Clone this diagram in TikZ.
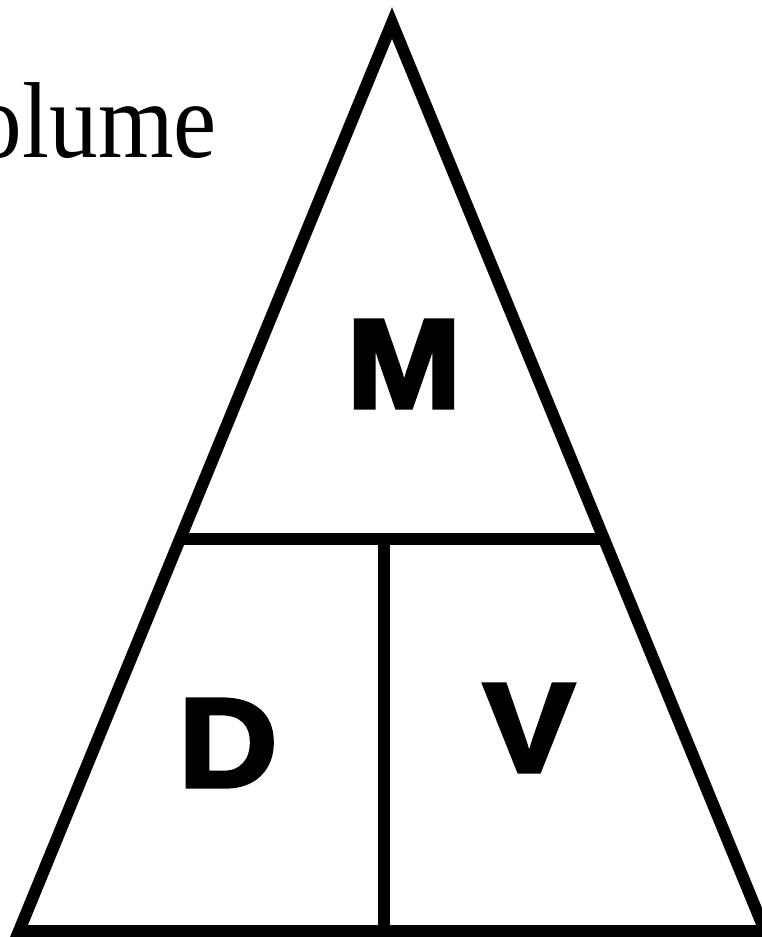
\documentclass[tikz,border=0pt]{standalone}
\usepackage{fontspec}
\setmainfont{Liberation Serif}
\newfontfamily\lettersans[BoldFeatures={FakeBold=3}]{Liberation Sans}
\usetikzlibrary{calc}
\tikzset{
  edge/.style={line width=12pt, line join=miter, miter limit=20},
  bigletter/.style={font=\lettersans\bfseries\fontsize{127}{127}\selectfont, inner sep=0pt, xscale=1.08},
  titletext/.style={font=\fontsize{108}{108}\selectfont, inner sep=0pt, xscale=0.9}
}
\begin{document}
\begin{tikzpicture}[x=1pt,y=-1pt]
\useasboundingbox (0,0) rectangle (762,937);
\clip (0,0) rectangle (762,937);
\coordinate (A) at (392,23);
\coordinate (B) at (19,931);
\coordinate (C) at (765,931);
\coordinate (HL) at ($(A)!0.568!(B)$);
\coordinate (HR) at ($(A)!0.568!(C)$);
\coordinate (VT) at (384,539);
\coordinate (VB) at (384,931);
\draw[edge] (A) -- (B) -- (C) -- cycle;
\draw[edge] (HL) -- (HR);
\draw[edge, line cap=butt] (VT) -- (VB);
\node[titletext, anchor=base east] (title) at (217,157) {Volume};
\node[bigletter] (M) at (404,364) {M};
\node[bigletter] (D) at (228,743) {D};
\node[bigletter] (V) at (529,728) {V};
\end{tikzpicture}
\end{document}
